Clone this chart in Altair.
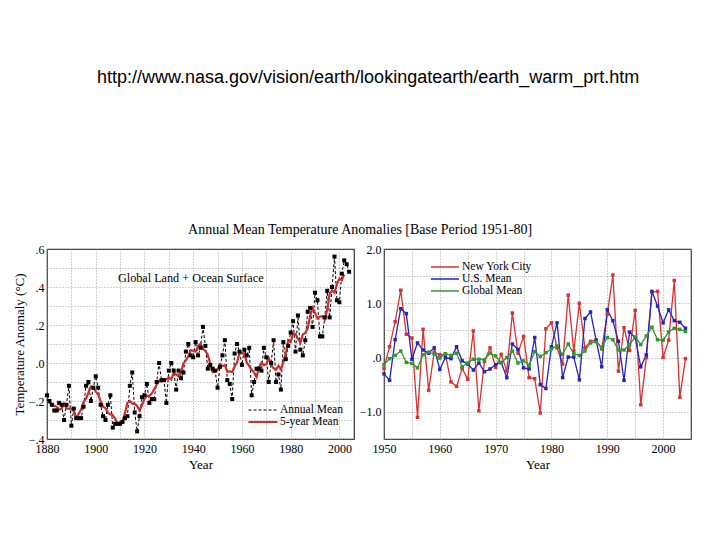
import altair as alt
import pandas as pd

SERIF = "Liberation Serif"
SANS = "Liberation Sans"

# ---------------- data: global land + ocean (left panel) ----------------
years_global = list(range(1880, 2005))
annual_mean = [
    -0.17, -0.20, -0.22, -0.25, -0.25, -0.21, -0.22, -0.30, -0.22, -0.12,   # 1880s
    -0.33, -0.24, -0.29, -0.29, -0.29, -0.23, -0.12, -0.10, -0.20, -0.13,   # 1890s
    -0.07, -0.13, -0.22, -0.28, -0.30, -0.22, -0.17, -0.34, -0.32, -0.32,   # 1900s
    -0.32, -0.31, -0.29, -0.28, -0.12, -0.05, -0.26, -0.36, -0.28, -0.18,   # 1910s
    -0.17, -0.11, -0.21, -0.19, -0.19, -0.10, 0.00, -0.09, -0.09, -0.21,    # 1920s
    -0.04, 0.00, -0.04, -0.14, -0.04, -0.08, -0.05, 0.06, 0.10, 0.04,       # 1930s
    0.03, 0.11, 0.04, 0.08, 0.19, 0.09, -0.03, -0.01, -0.03, -0.04,         # 1940s
    -0.13, -0.02, 0.04, 0.12, -0.09, -0.11, -0.19, 0.05, 0.10, 0.06,        # 1950s
    -0.01, 0.07, 0.04, 0.08, -0.17, -0.10, -0.03, -0.03, -0.04, 0.08,       # 1960s
    0.03, -0.10, 0.00, 0.12, -0.10, -0.06, -0.14, 0.11, 0.02, 0.09,         # 1970s
    0.16, 0.22, 0.06, 0.25, 0.07, 0.04, 0.12, 0.27, 0.29, 0.19,             # 1980s
    0.37, 0.33, 0.14, 0.14, 0.24, 0.38, 0.24, 0.40, 0.56, 0.33,             # 1990s
    0.32, 0.47, 0.54, 0.52, 0.48,                                           # 2000s
]
five_year_years = list(range(1880, 2003))
five_year_mean = [
    -0.19, -0.21, -0.218, -0.226, -0.230, -0.246, -0.240, -0.214, -0.238, -0.242,
    -0.240, -0.254, -0.288, -0.268, -0.244, -0.206, -0.188, -0.156, -0.124, -0.126,
    -0.150, -0.166, -0.200, -0.230, -0.238, -0.262, -0.270, -0.274, -0.294, -0.322,
    -0.312, -0.304, -0.264, -0.210, -0.200, -0.214, -0.214, -0.226, -0.250, -0.220,
    -0.190, -0.172, -0.174, -0.160, -0.138, -0.114, -0.094, -0.098, -0.086, -0.086,
    -0.076, -0.086, -0.052, -0.060, -0.070, -0.050, -0.002, 0.014, 0.036, 0.068,
    0.064, 0.060, 0.090, 0.102, 0.074, 0.064, 0.042, -0.004, -0.048, -0.046,
    -0.036, -0.006, -0.016, -0.012, -0.046, -0.044, -0.048, -0.018, 0.002, 0.054,
    0.052, 0.048, 0.002, -0.016, -0.036, -0.050, -0.074, -0.024, 0.002, -0.012,
    -0.006, 0.026, -0.010, -0.028, -0.036, -0.014, -0.034, 0.004, 0.048, 0.120,
    0.110, 0.156, 0.152, 0.128, 0.108, 0.150, 0.158, 0.182, 0.248, 0.290,
    0.264, 0.234, 0.244, 0.246, 0.228, 0.280, 0.364, 0.382, 0.370, 0.416,
    0.444, 0.436, 0.466,
]

# ---------------- data: NYC / US / Global (right panel) ----------------
years_local = list(range(1950, 2005))
nyc = [
    -0.20, 0.20, 0.66, 1.24, 0.43, 0.36, -1.10, 0.52, -0.60, 0.10,
    0.05, 0.06, -0.45, -0.53, -0.20, -0.40, 0.49, -0.98, -0.07, 0.18,
    -0.18, 0.06, -0.25, 0.82, 0.08, 0.39, -0.37, -0.39, -1.02, 0.53,
    0.64, 0.18, -0.12, 1.15, 0.12, 1.00, 0.18, 0.30, 0.32, 0.16,
    0.80, 1.52, -0.25, 0.55, 0.13, 0.87, -0.87, 0.00, 1.20, 1.22,
    0.00, 0.32, 1.42, -0.73, -0.02,
]
us_mean = [
    -0.30, -0.42, 0.33, 0.90, 0.81, -0.03, 0.27, 0.14, 0.08, 0.18,
    -0.22, 0.00, -0.02, 0.20, -0.06, -0.12, -0.23, -0.10, -0.26, -0.21,
    -0.13, -0.09, -0.37, 0.25, 0.15, -0.19, -0.21, 0.37, -0.50, -0.57,
    0.20, 0.64, -0.37, 0.01, 0.01, -0.41, 0.72, 0.84, 0.32, -0.17,
    0.88, 0.68, 0.30, -0.42, 0.47, 0.37, -0.17, 0.05, 1.22, 0.95,
    0.64, 0.88, 0.68, 0.65, 0.54,
]
global_mean = annual_mean[70:]  # same GISS series, 1950-2004

left_series = ["Annual Mean", "5-year Mean"]
right_series = ["New York City", "U.S. Mean", "Global Mean"]

left_df = pd.concat([
    pd.DataFrame({"year": years_global, "value": annual_mean, "curve": "Annual Mean"}),
    pd.DataFrame({"year": five_year_years, "value": five_year_mean, "curve": "5-year Mean"}),
])
annual_df = pd.DataFrame({"year": years_global, "value": annual_mean})
right_df = pd.concat([
    pd.DataFrame({"yr": years_local, "anom": nyc, "place": "New York City"}),
    pd.DataFrame({"yr": years_local, "anom": us_mean, "place": "U.S. Mean"}),
    pd.DataFrame({"yr": years_local, "anom": global_mean, "place": "Global Mean"}),
])
note_df = pd.DataFrame({"year": [1939], "value": [0.45], "label": ["Global Land + Ocean Surface"]})

W, H = 307, 190

# ---------------- left panel ----------------
xl = alt.X("year:Q", title="Year",
           scale=alt.Scale(domain=[1880, 2006], nice=False, zero=False),
           axis=alt.Axis(values=list(range(1880, 2001, 10)),
                         labelExpr="datum.value % 20 == 0 ? format(datum.value, 'd') : ''",
                         labelOverlap=False, labelFlush=False, labelPadding=4))
yl = alt.Y("value:Q", title="Temperature Anomaly (°C)",
           scale=alt.Scale(domain=[-0.4, 0.6], nice=False, zero=False),
           axis=alt.Axis(values=[round(-0.4 + 0.1 * i, 1) for i in range(11)],
                         labelExpr="abs(round(datum.value * 10)) % 2 == 0 ? replace(format(datum.value, '.1f'), '0.', '.') : ''",
                         labelOverlap=False, labelFlush=False, titlePadding=2))

left_legend = alt.Legend(title=None, orient="bottom-right", offset=9,
                         symbolType="stroke", symbolSize=841, symbolStrokeWidth=1.6,
                         labelFont=SERIF, labelFontSize=11.5, labelColor="black", labelOffset=1,
                         rowPadding=0, padding=2, clipHeight=10)

left_lines = alt.Chart(left_df).mark_line().encode(
    x=xl, y=yl,
    color=alt.Color("curve:N", sort=left_series,
                    scale=alt.Scale(domain=left_series, range=["#000000", "#cc2e2e"]),
                    legend=left_legend),
    strokeDash=alt.StrokeDash("curve:N", sort=left_series,
                              scale=alt.Scale(domain=left_series, range=[[3, 2], [1, 0]]),
                              legend=left_legend),
    strokeWidth=alt.StrokeWidth("curve:N",
                                scale=alt.Scale(domain=left_series, range=[1, 2.2]),
                                legend=None),
)
left_points = alt.Chart(annual_df).mark_square(size=16, color="black", opacity=1).encode(x=xl, y=yl)
left_note = alt.Chart(note_df).mark_text(font=SERIF, fontSize=12.2, color="black").encode(
    x=xl, y=yl, text="label:N")

left = alt.layer(left_lines, left_points, left_note).properties(width=W, height=H)

# ---------------- right panel ----------------
xr = alt.X("yr:Q", title="Year",
           scale=alt.Scale(domain=[1950, 2005], nice=False, zero=False),
           axis=alt.Axis(values=list(range(1950, 2006, 5)),
                         labelExpr="datum.value % 10 == 0 ? format(datum.value, 'd') : ''",
                         labelOverlap=False, labelFlush=False, labelPadding=4))
yr = alt.Y("anom:Q", title=None,
           scale=alt.Scale(domain=[-1.5, 2.0], nice=False, zero=False),
           axis=alt.Axis(values=[-1.5, -1.0, -0.5, 0.0, 0.5, 1.0, 1.5, 2.0],
                         labelExpr="datum.value % 1 == 0 ? (datum.value == 0 ? '.0' : format(datum.value, '.1f')) : ''",
                         labelOverlap=False, labelFlush=False))

right_legend = alt.Legend(title=None, orient="none", legendX=46, legendY=13,
                          symbolType="stroke", symbolSize=784, symbolStrokeWidth=1.6,
                          labelFont=SERIF, labelFontSize=11.5, labelColor="black", labelOffset=2,
                          rowPadding=0, padding=0, clipHeight=10)

right = alt.Chart(right_df).mark_line(
    strokeWidth=1.3,
    point=alt.OverlayMarkDef(shape="square", size=12, filled=True, opacity=1),
).encode(
    x=xr, y=yr,
    color=alt.Color("place:N", sort=right_series,
                    scale=alt.Scale(domain=right_series, range=["#d93030", "#2424bf", "#2e9a2e"]),
                    legend=right_legend),
).properties(width=W, height=H)

figure = alt.hconcat(left, right, spacing=3).resolve_scale(
    color="independent", strokeDash="independent", strokeWidth="independent"
).resolve_legend(
    color="independent", strokeDash="independent"
).properties(
    title=alt.TitleParams(
        text="Annual Mean Temperature Anomalies [Base Period 1951-80]",
        font=SERIF, fontSize=14, fontWeight="normal", color="black",
        anchor="middle", offset=5, dx=8,
    )
)

chart = alt.vconcat(figure).properties(
    title=alt.TitleParams(
        text="http://www.nasa.gov/vision/earth/lookingatearth/earth_warm_prt.htm",
        font=SANS, fontSize=18, fontWeight="normal", color="black",
        anchor="middle", offset=136, dx=16,
    ),
    padding={"left": 4, "top": 61, "right": 5, "bottom": 5},
    background="white",
).configure_view(
    stroke="#333333", strokeWidth=1.2
).configure_axis(
    grid=True, gridColor="#8a8a8a", gridDash=[1, 2], gridWidth=0.8,
    domain=False, ticks=False, labelPadding=3,
    labelFont=SERIF, labelFontSize=12, labelColor="black",
    titleFont=SERIF, titleFontSize=13, titleFontWeight="normal", titleColor="black",
)

chart.save("out.html", embed_options={"renderer": "svg", "actions": False})
